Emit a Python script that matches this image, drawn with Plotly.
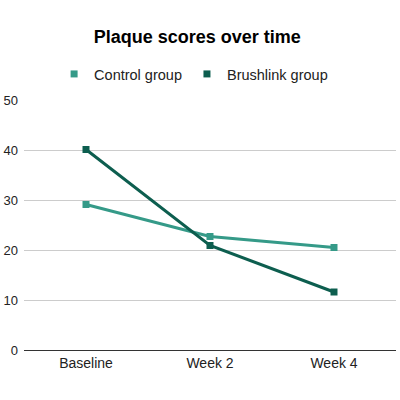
import plotly.graph_objects as go

timepoints = ["Baseline", "Week 2", "Week 4"]
control_scores = [29.1, 22.7, 20.5]
brushlink_scores = [40.1, 20.9, 11.6]
y_ticks = [0, 10, 20, 30, 40, 50]

series = [
    ("Control group", control_scores, "#359a88"),
    ("Brushlink group", brushlink_scores, "#0d5e4f"),
]

fig = go.Figure()

# lines first (no legend), then square markers that carry the legend entry
for name, vals, color in series:
    fig.add_trace(
        go.Scatter(x=timepoints, y=vals, mode="lines", line={"color": color, "width": 3},
                   showlegend=False, hoverinfo="skip")
    )
for name, vals, color in series:
    fig.add_trace(
        go.Scatter(x=timepoints, y=vals, mode="markers", name=name,
                   marker={"color": color, "symbol": "square", "size": 7})
    )

fig.update_layout(
    width=400,
    height=400,
    margin={"l": 24, "r": 4, "t": 100, "b": 50, "autoexpand": False},
    paper_bgcolor="white",
    plot_bgcolor="white",
    font={"family": "Liberation Sans, Arial, sans-serif", "size": 13, "color": "#222"},
    title={"text": "<b>Plaque scores over time</b>", "x": 0.493, "xanchor": "center",
           "y": 1 - 37 / 400, "yanchor": "middle", "font": {"size": 18, "color": "#000"}},
    legend={"orientation": "h", "xref": "container", "yref": "container",
            "x": 0.484, "xanchor": "center", "y": 1 - 74 / 400, "yanchor": "middle",
            "font": {"size": 14.5, "color": "#222"}, "itemwidth": 30},
    showlegend=True,
)
fig.update_xaxes(range=[-0.5, 2.5], showgrid=False, showline=True, linecolor="#333",
                 linewidth=1, ticks="", tickfont={"size": 14}, automargin=False)
fig.update_yaxes(range=[0, 50], tickvals=y_ticks, showgrid=True, gridcolor="#cccccc",
                 zeroline=False, showline=False, ticks="", tickfont={"size": 13},
                 ticklabelstandoff=5, automargin=False)

# drop the browser's default 8px body margin so the chart sits at the page corner
fig.write_html("out.html", config={"displayModeBar": False},
               post_script="document.body.style.margin = '0';")
